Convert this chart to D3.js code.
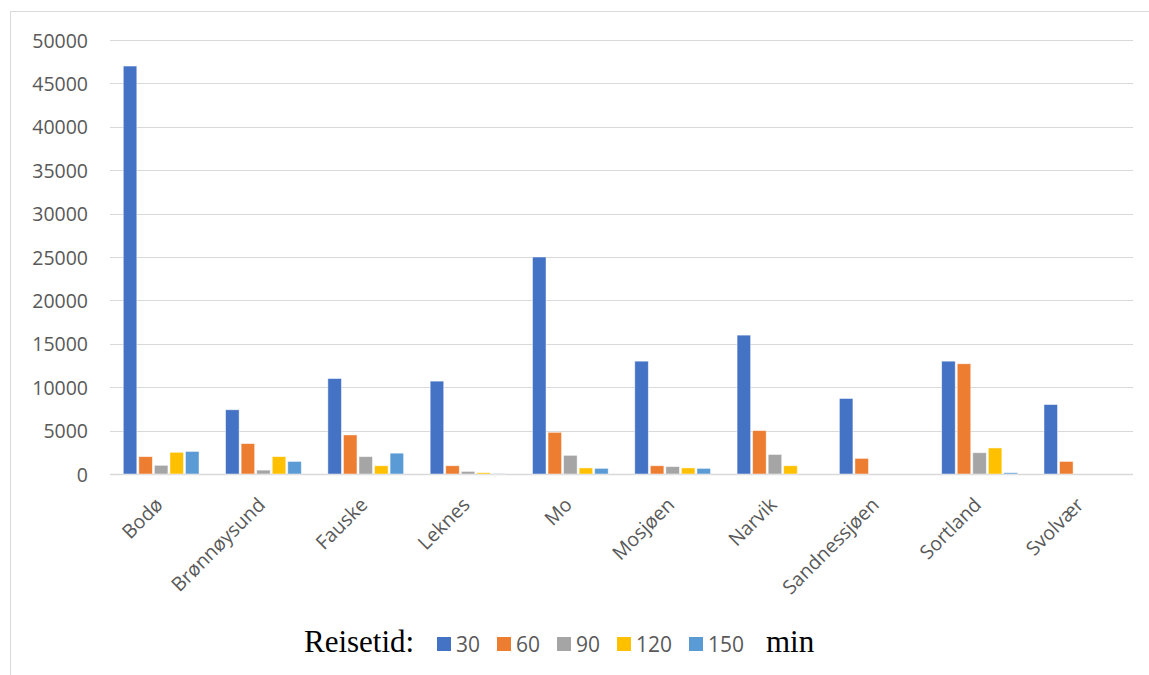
<!DOCTYPE html>
<html>
<head>
<meta charset="utf-8">
<script src="https://cdn.jsdelivr.net/npm/d3@7"></script>
<style>
  html, body { margin: 0; padding: 0; background: #fff; }
  svg { display: block; }
</style>
</head>
<body>
<svg id="chart" width="1149" height="675"></svg>
<script>
// Towns and number of people reachable within each travel time (minutes)
const categories = ["Bodø", "Brønnøysund", "Fauske", "Leknes", "Mo", "Mosjøen", "Narvik", "Sandnessjøen", "Sortland", "Svolvær"];
const seriesNames = ["30", "60", "90", "120", "150"];
const values30  = [47000, 7400, 11000, 10700, 25000, 13000, 16000, 8700, 13000, 8000];
const values60  = [2000, 3500, 4500, 950, 4800, 950, 5000, 1800, 12700, 1450];
const values90  = [1000, 450, 2000, 300, 2150, 850, 2250, 0, 2450, 0];
const values120 = [2500, 2000, 950, 150, 700, 700, 950, 0, 3000, 0];
const values150 = [2600, 1450, 2400, 50, 650, 650, 0, 0, 150, 0];
const yTicks = [0, 5000, 10000, 15000, 20000, 25000, 30000, 35000, 40000, 45000, 50000];
const colors = ["#4472C4", "#ED7D31", "#A5A5A5", "#FFC000", "#5B9BD5"];

const seriesValues = [values30, values60, values90, values120, values150];

const svg = d3.select("#chart");
const W = 1149, H = 675;

// outer chart frame (top and left edges visible)
svg.append("rect")
  .attr("x", 10.5).attr("y", 11.5)
  .attr("width", W + 10).attr("height", H + 10)
  .attr("fill", "none").attr("stroke", "#d9d9d9").attr("stroke-width", 1);

const plot = { left: 110, right: 1133, top: 40, bottom: 474 };

const y = d3.scaleLinear().domain([0, 50000]).range([plot.bottom, plot.top]);
const x0 = d3.scaleBand().domain(categories).range([plot.left, plot.right]).paddingInner(0.24).paddingOuter(0.12);
const x1 = d3.scaleBand().domain(seriesNames).range([0, x0.bandwidth()]).padding(0);

// gridlines
svg.append("g")
  .selectAll("line")
  .data(yTicks)
  .join("line")
  .attr("x1", plot.left).attr("x2", plot.right)
  .attr("y1", d => Math.round(y(d)) + 0.5).attr("y2", d => Math.round(y(d)) + 0.5)
  .attr("stroke", "#d9d9d9").attr("stroke-width", d => d === 0 ? 1.5 : 1);

// y axis labels
const yAxis = d3.axisLeft(y).tickValues(yTicks).tickSize(0).tickPadding(0).tickFormat(d3.format("d"));
const gy = svg.append("g").attr("transform", `translate(${88},0)`).call(yAxis);
gy.select(".domain").remove();
gy.selectAll("text")
  .attr("fill", "#595959")
  .style("font-family", "'Open Sans', 'Noto Sans', sans-serif")
  .style("font-size", "19.5px")
  .attr("dy", "0.36em");

// bars
const groups = svg.append("g")
  .selectAll("g")
  .data(categories)
  .join("g")
  .attr("transform", d => `translate(${x0(d)},0)`);

groups.selectAll("rect")
  .data((c, i) => seriesNames.map((s, k) => ({ s, k, v: seriesValues[k][i] })))
  .join("rect")
  .attr("x", d => x1(d.s) + 1)
  .attr("width", x1.bandwidth() - 2)
  .attr("y", d => y(d.v))
  .attr("height", d => y(0) - y(d.v))
  .attr("fill", d => colors[d.k])
  .attr("stroke", "#ffffff")
  .attr("stroke-opacity", 0.6)
  .attr("stroke-width", 0.8);

// category labels, rotated
const xAxis = d3.axisBottom(x0).tickSize(0).tickPadding(0);
const gx = svg.append("g").attr("transform", `translate(0,${plot.bottom})`).call(xAxis);
gx.select(".domain").remove();
gx.selectAll("text")
  .attr("fill", "#595959")
  .style("font-family", "'Open Sans', 'Noto Sans', sans-serif")
  .style("font-size", "19.5px")
  .attr("text-anchor", "end")
  .attr("dy", null)
  .attr("y", 0)
  .attr("transform", "translate(3,32) rotate(-45)");

// legend
const legend = svg.append("g");
legend.append("text")
  .attr("x", 304).attr("y", 652)
  .style("font-family", "'Liberation Serif', 'Times New Roman', serif")
  .style("font-size", "31px")
  .attr("fill", "#000")
  .text("Reisetid:");

const legendX = [437, 497, 557, 617, 689];
seriesNames.forEach((s, k) => {
  legend.append("rect")
    .attr("x", legendX[k]).attr("y", 637)
    .attr("width", 14).attr("height", 14)
    .attr("fill", colors[k]);
  legend.append("text")
    .attr("x", legendX[k] + 19).attr("y", 652)
    .style("font-family", "'Open Sans', 'Noto Sans', sans-serif")
    .style("font-size", "21px")
    .attr("fill", "#595959")
    .text(s);
});

legend.append("text")
  .attr("x", 766).attr("y", 652)
  .style("font-family", "'Liberation Serif', 'Times New Roman', serif")
  .style("font-size", "31px")
  .attr("fill", "#000")
  .text("min");
</script>
</body>
</html>
